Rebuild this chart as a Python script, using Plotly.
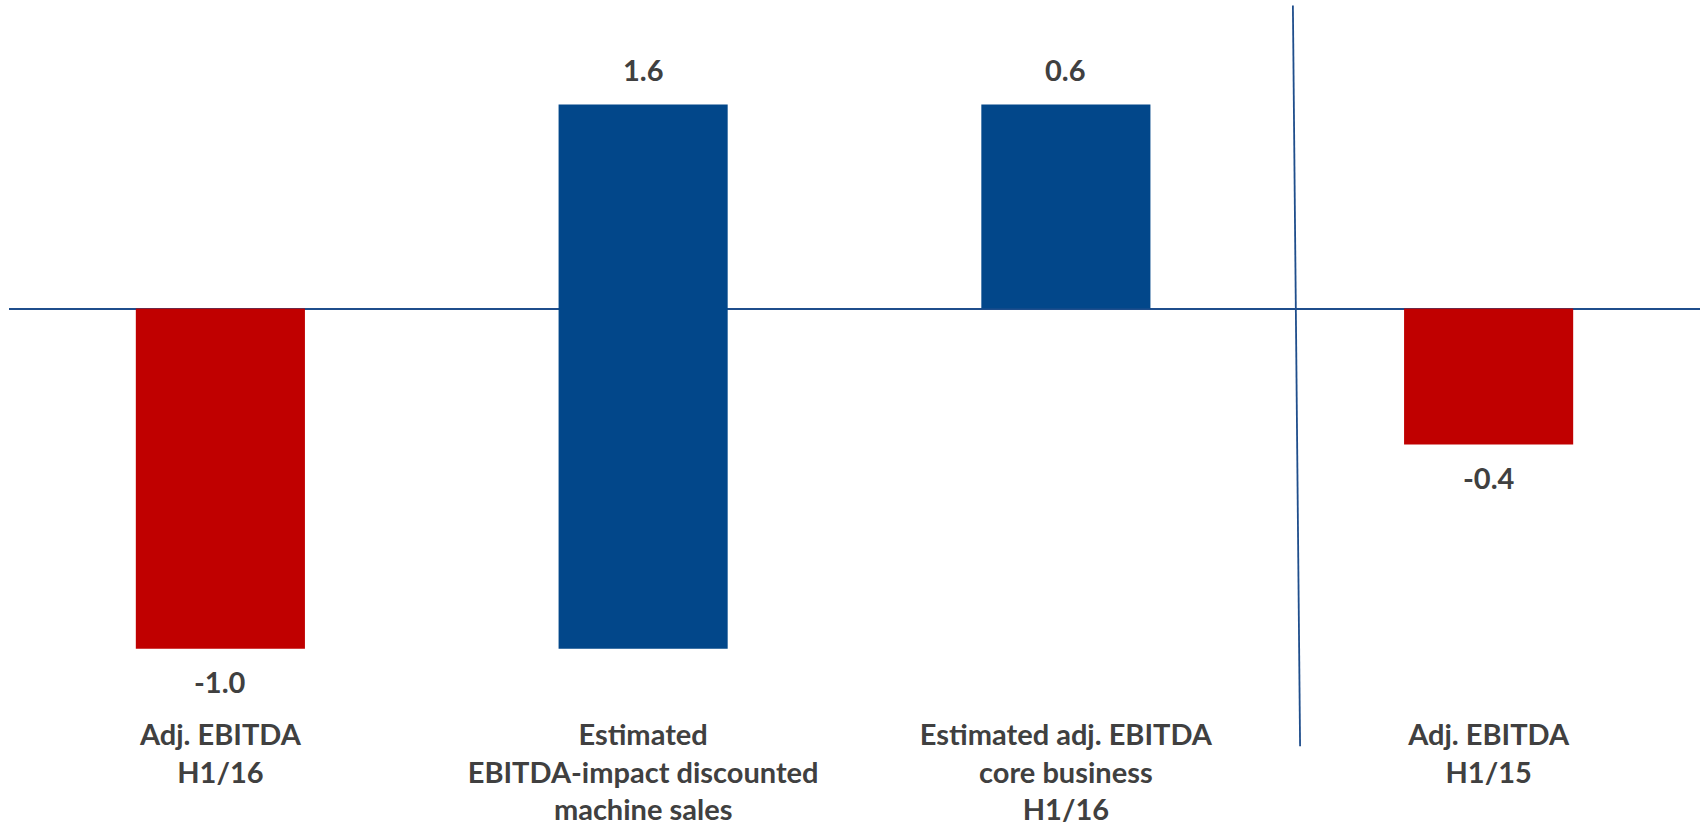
import plotly.graph_objects as go

categories = [
    "Adj. EBITDA<br>H1/16",
    "Estimated<br>EBITDA-impact discounted<br>machine sales",
    "Estimated adj. EBITDA<br>core business<br>H1/16",
    "Adj. EBITDA<br>H1/15",
]
values = [-1.0, 1.6, 0.6, -0.4]
bases = [0.0, -1.0, 0.0, 0.0]
value_labels = ["-1.0", "1.6", "0.6", "-0.4"]
bar_colors = ["#C00000", "#02478A", "#02478A", "#C00000"]

TEXT = "#404040"
FONT = "Lato"

fig = go.Figure()
fig.add_trace(go.Bar(
    x=list(range(len(categories))),
    y=values,
    base=bases,
    marker=dict(color=bar_colors, line=dict(width=0)),
    width=0.4,
    hoverinfo="skip",
))

for i, (v, b, lab) in enumerate(zip(values, bases, value_labels)):
    end = b + v
    if v >= 0:
        fig.add_annotation(x=i, y=end, text=f"<b>{lab}</b>", showarrow=False,
                           yanchor="middle", yshift=35,
                           font=dict(family=FONT, size=29, color=TEXT))
    else:
        fig.add_annotation(x=i, y=end, text=f"<b>{lab}</b>", showarrow=False,
                           yanchor="middle", yshift=-33,
                           font=dict(family=FONT, size=29, color=TEXT))

# divider line between H1/16 and H1/15
fig.add_shape(type="line", xref="x", yref="paper",
              x0=2.554, y0=-0.066, x1=2.537, y1=0.992,
              line=dict(color="#1F4E8C", width=1.8))

fig.update_layout(
    width=1700, height=825,
    margin=dict(l=9, r=0, t=0, b=125),
    paper_bgcolor="white", plot_bgcolor="white",
    showlegend=False,
    font=dict(family=FONT, color=TEXT),
    bargap=0.6,
)
fig.update_xaxes(
    range=[-0.5, 3.5],
    tickmode="array",
    tickvals=list(range(len(categories))),
    ticktext=[f"<b>{c}</b>" for c in categories],
    tickfont=dict(family=FONT, size=29, color=TEXT),
    ticklabelstandoff=15,
    showgrid=False, showline=False, zeroline=False, ticks="",
)
fig.update_yaxes(
    range=[-1.151, 0.907],
    showgrid=False, showticklabels=False, showline=False,
    zeroline=True, zerolinecolor="#1F4E8C", zerolinewidth=1.8,
)

fig.write_html("out.html")
